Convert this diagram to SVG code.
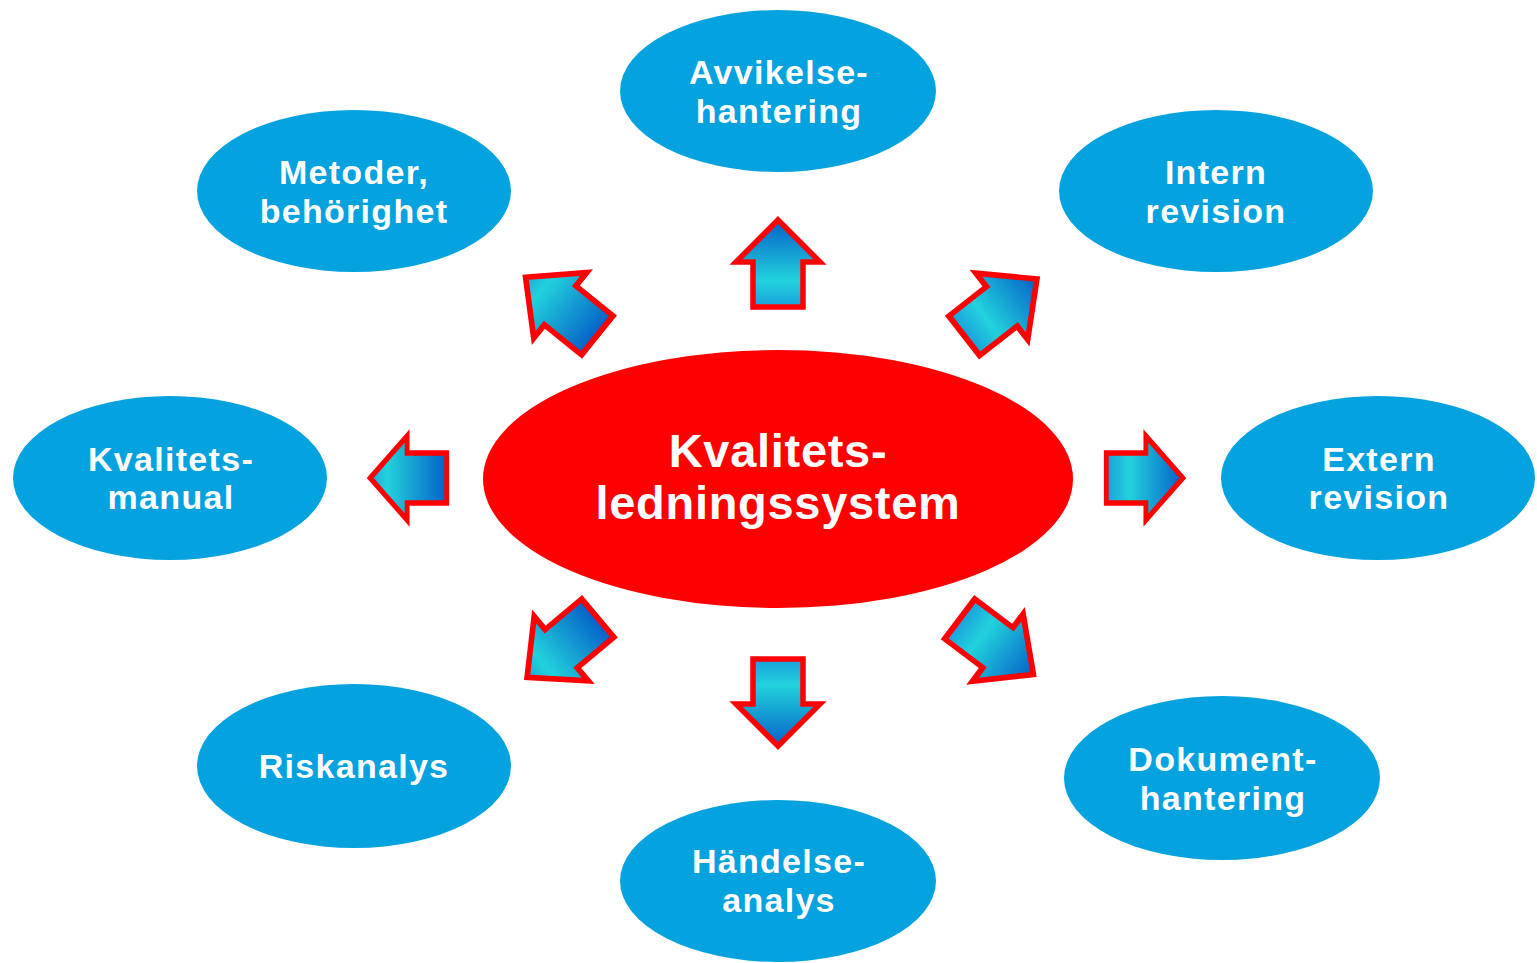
<svg xmlns="http://www.w3.org/2000/svg" width="1537" height="963" viewBox="0 0 1537 963">
<style>
.n{fill:#04a2de}
.t{font-family:"Liberation Sans",Arial,sans-serif;font-weight:bold;font-size:34px;fill:#fff;text-anchor:middle;letter-spacing:1.3px}
.c{font-family:"Liberation Sans",Arial,sans-serif;font-weight:bold;font-size:47px;fill:#fff;text-anchor:middle;letter-spacing:0.7px}
.a{stroke:#ff0000;stroke-width:5.5;stroke-linejoin:miter;vector-effect:non-scaling-stroke}
.f{fill:url(#gf)}
.r{fill:url(#gr)}
</style>
<defs>
<linearGradient id="gf" x1="0" y1="1" x2="0" y2="0">
<stop offset="0" stop-color="#1a9fdc"/>
<stop offset="0.3" stop-color="#22d2dc"/>
<stop offset="1" stop-color="#0560c8"/>
</linearGradient>
<linearGradient id="gr" x1="0" y1="0" x2="0" y2="1">
<stop offset="0" stop-color="#1aa8dc"/>
<stop offset="0.22" stop-color="#22d2dc"/>
<stop offset="1" stop-color="#0560c8"/>
</linearGradient>
<path id="ar" d="M0,-43 L42,-1 L25,-1 L25,44 L-25,44 L-25,-1 L-42,-1 Z"/>
</defs>
<g id="connectors">
<use href="#ar" class="a f" transform="translate(778,263)"/>
<use href="#ar" class="a f" transform="translate(778,703) rotate(180)"/>
<use href="#ar" class="a r" transform="translate(408,478) rotate(-90) scale(1,0.88)"/>
<use href="#ar" class="a f" transform="translate(1145,478) rotate(90) scale(1,0.88)"/>
<use href="#ar" class="a r" transform="translate(561,306) rotate(-51) scale(1,1.06)"/>
<use href="#ar" class="a f" transform="translate(1001,307) rotate(52) scale(1,1.06)"/>
<use href="#ar" class="a r" transform="translate(562,648) rotate(-130) scale(1,1.06)"/>
<use href="#ar" class="a f" transform="translate(997,647) rotate(127) scale(1,1.06)"/>
</g>
<g id="center">
<ellipse cx="778" cy="479" rx="295" ry="129" fill="#ff0000"/>
<text class="c" x="778" y="467">Kvalitets-</text>
<text class="c" x="778" y="519">ledningssystem</text>
</g>
<g id="avvikelse">
<ellipse class="n" cx="778" cy="91" rx="158" ry="81"/>
<text class="t" x="779" y="84">Avvikelse-</text>
<text class="t" x="779" y="123">hantering</text>
</g>
<g id="metoder">
<ellipse class="n" cx="354" cy="191" rx="157" ry="81"/>
<text class="t" x="354" y="184">Metoder,</text>
<text class="t" x="354" y="223">behörighet</text>
</g>
<g id="intern">
<ellipse class="n" cx="1216" cy="191" rx="157" ry="81"/>
<text class="t" x="1216" y="184">Intern</text>
<text class="t" x="1216" y="223">revision</text>
</g>
<g id="kvalitetsmanual">
<ellipse class="n" cx="170" cy="478" rx="157" ry="82"/>
<text class="t" x="171" y="471">Kvalitets-</text>
<text class="t" x="171" y="509">manual</text>
</g>
<g id="extern">
<ellipse class="n" cx="1378" cy="478" rx="157" ry="82"/>
<text class="t" x="1379" y="471">Extern</text>
<text class="t" x="1379" y="509">revision</text>
</g>
<g id="riskanalys">
<ellipse class="n" cx="354" cy="766" rx="157" ry="82"/>
<text class="t" x="354" y="778">Riskanalys</text>
</g>
<g id="dokument">
<ellipse class="n" cx="1222" cy="778" rx="158" ry="82"/>
<text class="t" x="1223" y="771">Dokument-</text>
<text class="t" x="1223" y="810">hantering</text>
</g>
<g id="handelse">
<ellipse class="n" cx="778" cy="881" rx="158" ry="81"/>
<text class="t" x="779" y="873">Händelse-</text>
<text class="t" x="779" y="912">analys</text>
</g>
</svg>
